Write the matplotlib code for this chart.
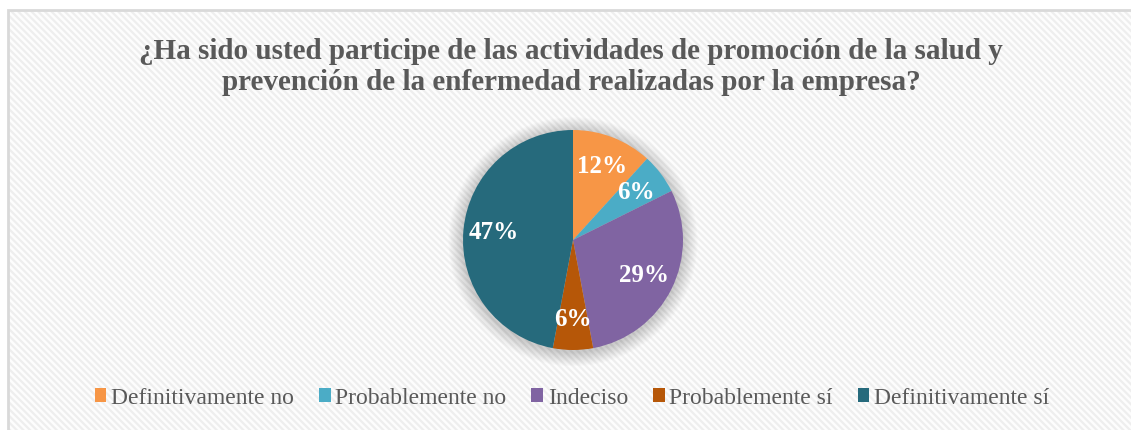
import matplotlib.pyplot as plt
from matplotlib.patches import Rectangle, Circle

# Datos (17 respuestas)
categorias = ["Definitivamente no", "Probablemente no", "Indeciso",
              "Probablemente sí", "Definitivamente sí"]
respuestas = [2, 1, 5, 1, 8]
colores = ["#F79646", "#4BACC6", "#8064A2", "#B65708", "#266A7C"]

titulo = ("¿Ha sido usted participe de las actividades de promoción de la salud y\n"
          "prevención de la enfermedad realizadas por la empresa?")

plt.rcParams['font.family'] = ['Liberation Serif', 'DejaVu Serif']
plt.rcParams['hatch.linewidth'] = 1.6

W, H = 1131, 430
fig = plt.figure(figsize=(W / 100, H / 100), dpi=100)
fig.patch.set_facecolor("white")

# Fondo rayado y borde
fondo = Rectangle((8 / W, 0), 1, 1 - 10 / H, transform=fig.transFigure,
                  facecolor="#fdfdfd", edgecolor="#eeeeee", hatch="\\\\\\\\\\",
                  linewidth=0, zorder=-10)
fig.patches.append(fondo)
borde = Rectangle((8 / W, -0.01), 1, 1 - 10 / H + 0.01, transform=fig.transFigure,
                  facecolor="none", edgecolor="#d9d9d9", linewidth=2, zorder=-9)
fig.patches.append(borde)

# Titulo
fig.text(571 / W, 1 - 67 / H, titulo, ha="center", va="center",
         fontsize=21, fontweight="bold", color="#595959", linespacing=1.15)

# Pastel (ejes mas grandes que el radio para que quepa la sombra)
cx, cy, r = 573, 240, 110
m = 1.25
ax = fig.add_axes([(cx - r * m) / W, (H - cy - r * m) / H, 2 * r * m / W, 2 * r * m / H])
ax.set_aspect("equal")
ax.axis("off")

# Sombra suave
for i in range(12):
    ax.add_patch(Circle((0, -0.015), 1 + 0.011 * (i + 1), facecolor="#000000",
                        alpha=0.016, linewidth=0, zorder=0))

wedges, textos, autotextos = ax.pie(
    respuestas, colors=colores, startangle=90, counterclock=False,
    autopct=lambda p: f"{p:.0f}%", pctdistance=0.72,
    wedgeprops=dict(linewidth=0), textprops=dict(color="white",
                                                 fontsize=18, fontweight="bold"))
for w in wedges:
    w.set_zorder(2)
for t in autotextos:
    t.set_zorder(3)
ax.set_xlim(-m, m)
ax.set_ylim(-m, m)

# Leyenda
fig.legend(wedges, categorias, loc="center", bbox_to_anchor=(572 / W, 1 - 398 / H),
           ncol=5, frameon=False, fontsize=17, handlelength=0.5, handleheight=0.5,
           handletextpad=0.2, columnspacing=1.05, labelcolor="#595959")

plt.savefig("out.png", dpi=100)
